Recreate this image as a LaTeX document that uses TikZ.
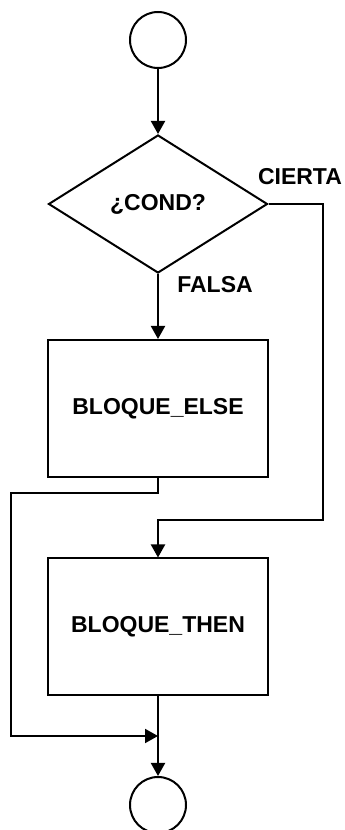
\documentclass[tikz,border=0pt]{standalone}
\usepackage{fontspec}
\setmainfont{Liberation Sans}
\usetikzlibrary{shapes.geometric,arrows.meta}

\begin{document}
\begin{tikzpicture}[x=1pt,y=1pt,
    line width=2pt,
    font=\fontsize{23}{27}\selectfont\bfseries,
    term/.style={draw,circle,minimum size=56pt,inner sep=0pt},
    decision/.style={draw,diamond,minimum width=219pt,minimum height=138pt,inner sep=0pt},
    block/.style={draw,rectangle,minimum width=220pt,minimum height=137pt,inner sep=0pt},
    arr/.style={-{Triangle[length=13pt,width=14pt]}}]
    \useasboundingbox (0,0) rectangle (345,830);

    % Start and condition
    \node[term] (start) at (158,790) {};
    \node[decision] (cond) at (158,626) {¿COND?};
    \draw[arr] (start) -- (cond.north);

    % Blocks
    \node[block] (else) at (158,421.5) {BLOQUE\_ELSE};
    \node[block] (then) at (158,203) {BLOQUE\_THEN};
    \node[term] (stop) at (158,25) {};

    % Labels of the two exits
    \node (ftxt) at (215,545) {FALSA};
    \node (ctxt) at (300,653) {CIERTA};

    % Bends
    \coordinate (rightR) at (323,310);
    \coordinate (lowL) at (11,337);
    \coordinate (join) at (158,94);

    % Connectors
    \draw[arr] (cond.south) -- (else.north);
    \draw[arr] (cond.east) -| (rightR) -| (then.north);
    \draw[arr] (else.south) |- (lowL) |- (join);
    \draw[arr] (then.south) -- (stop.north);
\end{tikzpicture}
\end{document}
